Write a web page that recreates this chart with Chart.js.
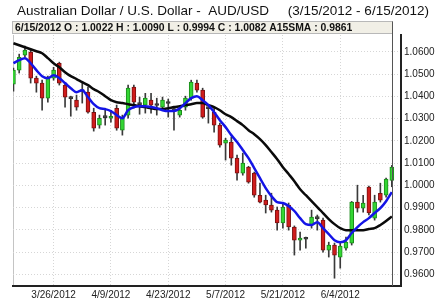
<!DOCTYPE html>
<html>
<head>
<meta charset="utf-8">
<script src="https://cdn.jsdelivr.net/npm/chart.js@4.4.1/dist/chart.umd.min.js"></script>
<style>
  html, body { margin: 0; padding: 0; background: #fff; }
</style>
</head>
<body>
<canvas id="fxChart" width="437" height="301"></canvas>
<script>
const titleText = "Australian Dollar / U.S. Dollar -  AUD/USD     (3/15/2012 - 6/15/2012)";
const headerText = "6/15/2012 O : 1.0022 H : 1.0090 L : 0.9994 C : 1.0082 A15SMA : 0.9861";

const dates = [
  "3/15/2012", "3/16/2012", "3/19/2012", "3/20/2012", "3/21/2012", "3/22/2012", "3/23/2012",
  "3/26/2012", "3/27/2012", "3/28/2012", "3/29/2012", "3/30/2012",
  "4/2/2012", "4/3/2012", "4/4/2012", "4/5/2012", "4/6/2012",
  "4/9/2012", "4/10/2012", "4/11/2012", "4/12/2012", "4/13/2012",
  "4/16/2012", "4/17/2012", "4/18/2012", "4/19/2012", "4/20/2012",
  "4/23/2012", "4/24/2012", "4/25/2012", "4/26/2012", "4/27/2012",
  "4/30/2012", "5/1/2012", "5/2/2012", "5/3/2012", "5/4/2012",
  "5/7/2012", "5/8/2012", "5/9/2012", "5/10/2012", "5/11/2012",
  "5/14/2012", "5/15/2012", "5/16/2012", "5/17/2012", "5/18/2012",
  "5/21/2012", "5/22/2012", "5/23/2012", "5/24/2012", "5/25/2012",
  "5/28/2012", "5/29/2012", "5/30/2012", "5/31/2012", "6/1/2012",
  "6/4/2012", "6/5/2012", "6/6/2012", "6/7/2012", "6/8/2012",
  "6/11/2012", "6/12/2012", "6/13/2012", "6/14/2012", "6/15/2012"
];

const opens = [
  1.0455, 1.0518, 1.0585, 1.0599, 1.0482, 1.0460, 1.0392, 1.0482, 1.0549, 1.0451,
  1.0394, 1.0383, 1.0426, 1.0419, 1.0329, 1.0271, 1.0309, 1.0302, 1.0347, 1.0248,
  1.0316, 1.0442, 1.0367, 1.0361, 1.0383, 1.0363, 1.0352, 1.0372, 1.0340, 1.0316,
  1.0352, 1.0392, 1.0460, 1.0428, 1.0349, 1.0329, 1.0271, 1.0190, 1.0195, 1.0123,
  1.0055, 1.0082, 1.0055, 0.9956, 0.9934, 0.9912, 0.9889, 0.9831, 0.9912, 0.9813,
  0.9754, 0.9762, 0.9822, 0.9855, 0.9844, 0.9709, 0.9732, 0.9678, 0.9718, 0.9741,
  0.9925, 0.9898, 0.9992, 0.9853, 0.9965, 0.9956, 1.0022
];
const highs = [
  1.0527, 1.0590, 1.0626, 1.0608, 1.0491, 1.0473, 1.0491, 1.0531, 1.0554, 1.0460,
  1.0401, 1.0406, 1.0464, 1.0442, 1.0347, 1.0316, 1.0347, 1.0338, 1.0361, 1.0316,
  1.0451, 1.0451, 1.0397, 1.0414, 1.0414, 1.0392, 1.0397, 1.0388, 1.0352, 1.0352,
  1.0401, 1.0473, 1.0473, 1.0437, 1.0352, 1.0347, 1.0280, 1.0212, 1.0217, 1.0136,
  1.0145, 1.0086, 1.0060, 1.0010, 0.9956, 0.9965, 0.9903, 0.9921, 0.9921, 0.9818,
  0.9790, 0.9768, 0.9889, 0.9867, 0.9853, 0.9745, 0.9741, 0.9741, 0.9768, 0.9928,
  1.0001, 0.9956, 0.9997, 0.9956, 1.0010, 1.0033, 1.0090
];
const lows = [
  1.0424, 1.0505, 1.0576, 1.0460, 1.0419, 1.0338, 1.0374, 1.0473, 1.0451, 1.0352,
  1.0311, 1.0338, 1.0370, 1.0325, 1.0244, 1.0257, 1.0271, 1.0284, 1.0248, 1.0226,
  1.0302, 1.0347, 1.0320, 1.0325, 1.0325, 1.0316, 1.0338, 1.0307, 1.0248, 1.0307,
  1.0338, 1.0383, 1.0419, 1.0302, 1.0280, 1.0239, 1.0172, 1.0114, 1.0091, 1.0024,
  1.0046, 1.0010, 0.9947, 0.9921, 0.9876, 0.9880, 0.9799, 0.9808, 0.9799, 0.9687,
  0.9709, 0.9718, 0.9808, 0.9799, 0.9700, 0.9678, 0.9583, 0.9628, 0.9709, 0.9732,
  0.9880, 0.9880, 0.9867, 0.9844, 0.9925, 0.9947, 0.9994
];
const closes = [
  1.0518, 1.0576, 1.0608, 1.0482, 1.0460, 1.0392, 1.0482, 1.0518, 1.0460, 1.0397,
  1.0390, 1.0352, 1.0422, 1.0329, 1.0257, 1.0302, 1.0305, 1.0311, 1.0257, 1.0302,
  1.0437, 1.0374, 1.0363, 1.0392, 1.0361, 1.0359, 1.0383, 1.0368, 1.0336, 1.0338,
  1.0392, 1.0464, 1.0428, 1.0307, 1.0345, 1.0271, 1.0181, 1.0204, 1.0123, 1.0055,
  1.0100, 1.0015, 0.9956, 0.9925, 0.9912, 0.9889, 0.9831, 0.9903, 0.9813, 0.9754,
  0.9763, 0.9758, 0.9858, 0.9851, 0.9709, 0.9732, 0.9687, 0.9727, 0.9745, 0.9925,
  0.9898, 0.9921, 0.9876, 0.9925, 0.9934, 1.0028, 1.0082
];

// blue fast average and black A15SMA
const fastAvg = [
  1.0549, 1.0563, 1.0572, 1.0549, 1.0518, 1.0491, 1.0482, 1.0495, 1.0482, 1.0460,
  1.0437, 1.0419, 1.0428, 1.0397, 1.0365, 1.0347, 1.0343, 1.0334, 1.0316, 1.0302,
  1.0338, 1.0352, 1.0356, 1.0356, 1.0352, 1.0347, 1.0338, 1.0334, 1.0334, 1.0347,
  1.0370, 1.0392, 1.0401, 1.0383, 1.0361, 1.0329, 1.0293, 1.0262, 1.0226, 1.0195,
  1.0159, 1.0123, 1.0078, 1.0033, 0.9988, 0.9952, 0.9925, 0.9921, 0.9907, 0.9885,
  0.9853, 0.9826, 0.9822, 0.9835, 0.9808, 0.9781, 0.9754, 0.9745, 0.9754, 0.9786,
  0.9813, 0.9835, 0.9853, 0.9876, 0.9898, 0.9929, 0.9970
];
const sma15 = [
  1.0639, 1.0630, 1.0621, 1.0612, 1.0603, 1.0594, 1.0572, 1.0549, 1.0531, 1.0509,
  1.0491, 1.0478, 1.0464, 1.0451, 1.0433, 1.0419, 1.0401, 1.0383, 1.0374, 1.0370,
  1.0365, 1.0361, 1.0356, 1.0352, 1.0347, 1.0343, 1.0343, 1.0347, 1.0352, 1.0356,
  1.0361, 1.0365, 1.0370, 1.0370, 1.0361, 1.0352, 1.0338, 1.0320, 1.0307, 1.0289,
  1.0271, 1.0248, 1.0230, 1.0208, 1.0181, 1.0150, 1.0118, 1.0082, 1.0051, 1.0019,
  0.9983, 0.9956, 0.9929, 0.9903, 0.9876, 0.9849, 0.9826, 0.9808, 0.9799, 0.9799,
  0.9799, 0.9799, 0.9804, 0.9808, 0.9822, 0.9840, 0.9861
];

const tickDates = ["3/26/2012", "4/9/2012", "4/23/2012", "5/7/2012", "5/21/2012", "6/4/2012"];
const priceTicks = [0.96, 0.97, 0.98, 0.99, 1.00, 1.01, 1.02, 1.03, 1.04, 1.05, 1.06];

const FONT = "'Liberation Sans', Arial, sans-serif";
const GREEN = "#33d633", RED = "#d01c1c", DOJI = "#444";

function candleColor(i) {
  const diff = closes[i] - opens[i];
  if (Math.abs(diff) < 0.0006) return DOJI;
  return diff > 0 ? GREEN : RED;
}
function candleEdge(i) {
  const diff = closes[i] - opens[i];
  if (Math.abs(diff) < 0.0006) return "#333";
  return diff > 0 ? "#1b8a1b" : "#7a1010";
}

const frame = {
  id: "frame",
  beforeDraw(chart) {
    const { ctx, chartArea: a } = chart;
    ctx.save();
    ctx.fillStyle = "#fff";
    ctx.fillRect(0, 0, chart.width, chart.height);
    ctx.fillStyle = "#111";
    ctx.font = "13.5px " + FONT;
    ctx.textBaseline = "middle";
    ctx.fillText(titleText, 17, 11);
    ctx.strokeStyle = "#c4c4c4";
    ctx.lineWidth = 1;
    ctx.beginPath();
    ctx.moveTo(a.left + 0.5, a.top);
    ctx.lineTo(a.left + 0.5, a.bottom);
    ctx.stroke();
    ctx.restore();
  },
  afterDraw(chart) {
    const { ctx, chartArea: a } = chart;
    const xc = Math.round(chart.scales.x.getPixelForValue(dates.length - 1)) + 0.5;
    ctx.save();
    ctx.fillStyle = "#f1efe6";
    ctx.fillRect(12.5, 21.5, xc - 12.5, 12);
    ctx.strokeStyle = "#b8b8b8";
    ctx.lineWidth = 1;
    ctx.strokeRect(12.5, 21.5, xc - 12.5, 12);
    ctx.fillStyle = "#111";
    ctx.font = "bold 10.4px " + FONT;
    ctx.textBaseline = "middle";
    ctx.fillText(headerText, 15, 28);
    ctx.strokeStyle = "#555";
    ctx.beginPath();
    ctx.moveTo(xc, 21.5);
    ctx.lineTo(xc, a.bottom);
    ctx.stroke();
    ctx.restore();
  }
};

new Chart(document.getElementById("fxChart"), {
  type: "bar",
  data: {
    datasets: [
      {
        type: "line",
        label: "Fast MA",
        data: fastAvg.map((v, i) => ({ x: i, y: v })),
        borderColor: "#1414e6",
        borderWidth: 2.5,
        pointRadius: 0,
        cubicInterpolationMode: "monotone",
        order: 0
      },
      {
        type: "line",
        label: "A15SMA",
        data: sma15.map((v, i) => ({ x: i, y: v })),
        borderColor: "#0a0a0a",
        borderWidth: 2.5,
        pointRadius: 0,
        cubicInterpolationMode: "monotone",
        order: 1
      },
      {
        label: "Body",
        data: dates.map((d, i) => ({ x: i, y: [opens[i], closes[i]] })),
        backgroundColor: ctx => candleColor(ctx.dataIndex),
        borderColor: ctx => candleEdge(ctx.dataIndex),
        borderWidth: 1,
        borderSkipped: false,
        barThickness: 4,
        minBarLength: 2,
        grouped: false,
        order: 2
      },
      {
        label: "Wick",
        data: dates.map((d, i) => ({ x: i, y: [lows[i], highs[i]] })),
        backgroundColor: "#3a3a3a",
        barThickness: 1,
        grouped: false,
        order: 3
      }
    ]
  },
  options: {
    responsive: false,
    animation: false,
    layout: { padding: { top: 35, left: 13, right: 0, bottom: 0 } },
    plugins: {
      legend: { display: false },
      tooltip: { enabled: false },
      title: { display: false }
    },
    scales: {
      x: {
        type: "linear",
        offset: false,
        min: -0.08,
        max: 67.6,
        afterBuildTicks: axis => {
          axis.ticks = tickDates.map(d => ({ value: dates.indexOf(d) }));
        },
        afterFit: s => { s.height = 15; },
        ticks: {
          autoSkip: false,
          maxRotation: 0,
          padding: 3,
          color: "#222",
          font: { family: FONT, size: 10 },
          callback: v => dates[v]
        },
        grid: { color: "#d6d6d6", drawTicks: false, offset: false },
        border: { color: "#222", width: 2, dash: [1, 2] }
      },
      y: {
        position: "right",
        min: 0.9548,
        max: 1.0676,
        afterBuildTicks: axis => {
          axis.ticks = priceTicks.map(v => ({ value: v }));
        },
        afterFit: s => { s.width = 36; },
        ticks: {
          padding: 3,
          color: "#222",
          font: { family: FONT, size: 10 },
          callback: v => v.toFixed(4)
        },
        grid: { color: "#d6d6d6", drawTicks: false },
        border: { color: "#222", width: 2, dash: [1, 2] }
      }
    }
  },
  plugins: [frame]
});
</script>
</body>
</html>
